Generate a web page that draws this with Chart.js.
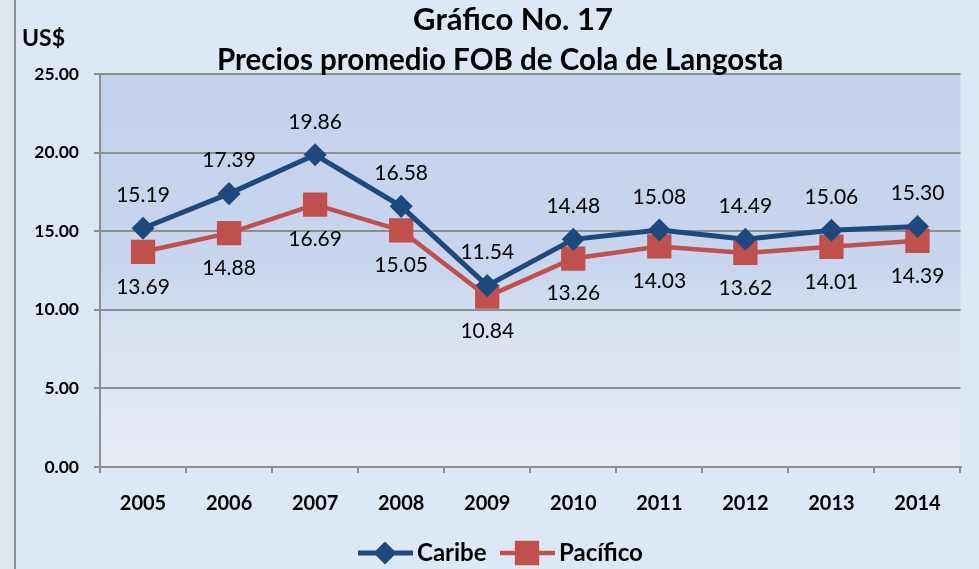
<!DOCTYPE html>
<html>
<head>
<meta charset="utf-8">
<script src="https://cdn.jsdelivr.net/npm/chart.js@4/dist/chart.umd.min.js"></script>
<style>
  html, body { margin: 0; padding: 0; }
  body { width: 979px; height: 569px; background: #dce8f5; overflow: hidden; }
  #wrap { width: 979px; height: 569px; position: relative; }
</style>
</head>
<body>
<div id="wrap"><canvas id="lineChart" width="979" height="569"></canvas></div>
<script>
// data
const years = ['2005', '2006', '2007', '2008', '2009', '2010', '2011', '2012', '2013', '2014'];
const caribe = [15.19, 17.39, 19.86, 16.58, 11.54, 14.48, 15.08, 14.49, 15.06, 15.30];
const pacifico = [13.69, 14.88, 16.69, 15.05, 10.84, 13.26, 14.03, 13.62, 14.01, 14.39];
const yTicks = [0, 5, 10, 15, 20, 25];
const titleLines = ['Gráfico No. 17', 'Precios promedio FOB de Cola de Langosta'];
const yUnit = 'US$';

const FONT = 'Lato, "Open Sans", sans-serif';
const BLUE = '#1f497d';
const RED = '#c0504d';

// background, plot area fill and the left strip
const backdrop = {
  id: 'backdrop',
  beforeDraw(chart) {
    const { ctx, chartArea: a } = chart;
    ctx.save();
    ctx.fillStyle = '#e0e6ee';
    ctx.fillRect(0, 0, 15, chart.height);
    ctx.fillStyle = '#8a9099';
    ctx.fillRect(14, 0, 2, chart.height);
    const g = ctx.createLinearGradient(0, a.top, 0, a.bottom);
    g.addColorStop(0, '#c4d2ee');
    g.addColorStop(0.5, '#c7d5ee');
    g.addColorStop(0.65, '#d9e2f2');
    g.addColorStop(1, '#e8ebf4');
    ctx.fillStyle = g;
    ctx.fillRect(a.left, a.top, a.right - a.left, a.bottom - a.top);
    ctx.restore();
  }
};

// value labels: Caribe above, Pacífico below
const valueLabels = {
  id: 'valueLabels',
  afterDatasetsDraw(chart) {
    const { ctx } = chart;
    ctx.save();
    ctx.font = '21px ' + FONT;
    ctx.fillStyle = '#000';
    ctx.textAlign = 'center';
    ctx.textBaseline = 'middle';
    chart.data.datasets.forEach((ds, i) => {
      const meta = chart.getDatasetMeta(i);
      meta.data.forEach((pt, j) => {
        const dy = i === 0 ? -33 : 35;
        ctx.fillText(ds.data[j].toFixed(2), pt.x, pt.y + dy);
      });
    });
    ctx.restore();
  }
};

// title, unit label and legend (line + marker)
const decorations = {
  id: 'decorations',
  afterDraw(chart) {
    const { ctx } = chart;
    ctx.save();
    ctx.fillStyle = '#000';
    ctx.textBaseline = 'middle';
    ctx.textAlign = 'center';
    ctx.font = 'bold 31px ' + FONT;
    ctx.fillText(titleLines[0], 513, 20);
    ctx.font = 'bold 29.5px ' + FONT;
    ctx.fillText(titleLines[1], 500, 60);
    ctx.textAlign = 'left';
    ctx.font = 'bold 23px ' + FONT;
    ctx.fillText(yUnit, 22, 39);

    const items = [
      { ds: chart.data.datasets[0], x: 358 },
      { ds: chart.data.datasets[1], x: 500 }
    ];
    const y = 553;
    items.forEach(({ ds, x }) => {
      ctx.strokeStyle = ds.borderColor;
      ctx.lineWidth = ds.borderWidth;
      ctx.beginPath();
      ctx.moveTo(x, y);
      ctx.lineTo(x + 55, y);
      ctx.stroke();
      ctx.fillStyle = ds.pointBackgroundColor;
      ctx.strokeStyle = ds.pointBorderColor;
      Chart.helpers.drawPoint(ctx, {
        pointStyle: ds.pointStyle,
        radius: ds.pointRadius,
        rotation: 0,
        borderWidth: 1
      }, x + 27, y);
      ctx.fillStyle = '#000';
      ctx.font = 'bold 24px ' + FONT;
      ctx.fillText(ds.label, x + 59, y);
    });
    ctx.restore();
  }
};

new Chart(document.getElementById('lineChart'), {
  type: 'line',
  data: {
    labels: years,
    datasets: [
      {
        label: 'Caribe',
        data: caribe,
        borderColor: BLUE,
        borderWidth: 5,
        pointStyle: 'rectRot',
        pointRadius: 8,
        pointBackgroundColor: BLUE,
        pointBorderColor: BLUE,
        tension: 0
      },
      {
        label: 'Pacífico',
        data: pacifico,
        borderColor: RED,
        borderWidth: 4.5,
        pointStyle: 'rect',
        pointRadius: 14,
        pointBackgroundColor: RED,
        pointBorderColor: RED,
        tension: 0
      }
    ]
  },
  options: {
    responsive: false,
    animation: false,
    clip: false,
    layout: { padding: { left: 0, top: 74, right: 16, bottom: 0 } },
    plugins: {
      legend: { display: false },
      title: { display: false },
      tooltip: { enabled: false }
    },
    scales: {
      x: {
        offset: true,
        grid: {
          offset: true,
          drawOnChartArea: false,
          drawTicks: true,
          tickLength: 6,
          color: '#8e8e8e',
          lineWidth: 2
        },
        border: { color: '#8e8e8e', width: 2 },
        ticks: {
          color: '#000',
          font: { family: FONT, size: 20, weight: 'bold' },
          padding: 19,
          maxRotation: 0
        },
        afterFit(scale) { scale.height = 102; }
      },
      y: {
        min: 0,
        max: 25,
        afterBuildTicks(scale) { scale.ticks = yTicks.map(v => ({ value: v })); },
        grid: {
          color: '#8e8e8e',
          lineWidth: 2,
          drawTicks: true,
          tickLength: 6
        },
        border: { color: '#8e8e8e', width: 2 },
        ticks: {
          color: '#000',
          font: { family: FONT, size: 17.5, weight: 'bold' },
          padding: 15,
          callback: v => Number(v).toFixed(2)
        },
        afterFit(scale) { scale.width = 100; }
      }
    }
  },
  plugins: [backdrop, valueLabels, decorations]
});
</script>
</body>
</html>
